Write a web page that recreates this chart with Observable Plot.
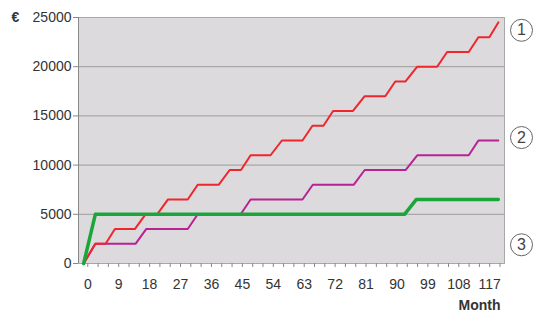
<!DOCTYPE html>
<html>
<head>
<meta charset="utf-8">
<script src="https://cdn.jsdelivr.net/npm/d3@7"></script>
<script src="https://cdn.jsdelivr.net/npm/@observablehq/plot@0.6"></script>
<style>
  html, body { margin: 0; padding: 0; background: #fff; }
</style>
</head>
<body>
<div id="chart"></div>
<script>
// ---- data ----
const redMonths = [-1.2, 2.2, 5.2, 7.9, 13.7, 16.8, 20.2, 23.3, 29.1, 32, 38.1, 41.3, 44.6, 47.4, 53.2, 56.5, 62.5, 65.4, 68.6, 71.4, 77.2, 80.6, 86.6, 89.5, 92.5, 95.9, 101.7, 104.6, 110.9, 113.7, 116.9, 119.5];
const redValues = [0, 2000, 2000, 3500, 3500, 5000, 5000, 6500, 6500, 8000, 8000, 9500, 9500, 11000, 11000, 12500, 12500, 14000, 14000, 15500, 15500, 17000, 17000, 18500, 18500, 20000, 20000, 21500, 21500, 23000, 23000, 24500];

const purpleMonths = [-1.2, 2.2, 13.9, 17.0, 29.1, 32, 44.5, 47.4, 62.5, 65.5, 77.4, 80.6, 92.5, 95.9, 110.9, 113.7, 119.5];
const purpleValues = [0, 2000, 2000, 3500, 3500, 5000, 5000, 6500, 6500, 8000, 8000, 9500, 9500, 11000, 11000, 12500, 12500];

const greenMonths = [-1.2, 2.2, 92.2, 95.6, 119.5];
const greenValues = [0, 5000, 5000, 6500, 6500];

const yTicks = [0, 5000, 10000, 15000, 20000, 25000];
const yGrid = [5000, 10000, 15000, 20000];
const xTickLabels = [0, 9, 18, 27, 36, 45, 54, 63, 72, 81, 90, 99, 108, 117];
const xMinorTicks = [0, 3, 6, 9, 12, 15, 18, 21, 24, 27, 30, 33, 36, 39, 42, 45, 48, 51, 54, 57, 60, 63, 66, 69, 72, 75, 78, 81, 84, 87, 90, 93, 96, 99, 102, 105, 108, 111, 114, 117, 120];

const seriesLabels = ["1", "2", "3"];
const seriesLabelValues = [23700, 12800, 1900];

const seriesNames = ["red", "purple", "green"];
const seriesColors = ["#ef262c", "#b62394", "#1ba63c"];

const toRows = (name, ms, vs) => ms.map((m, i) => ({series: name, month: m, value: vs[i]}));
const red = toRows("red", redMonths, redValues);
const purple = toRows("purple", purpleMonths, purpleValues);
const green = toRows("green", greenMonths, greenValues);
const circles = seriesLabels.map((t, i) => ({t, y: seriesLabelValues[i]}));

const chart = Plot.plot({
  width: 537,
  height: 314,
  marginLeft: 78,
  marginRight: 33,
  marginTop: 17,
  marginBottom: 51,
  style: {fontFamily: "'Liberation Sans', Arial, sans-serif", fontSize: "14px", color: "#333", background: "white", overflow: "visible"},
  x: {domain: [-2.7, 121.3]},
  y: {domain: [0, 25000]},
  marks: [
    Plot.frame({fill: "#dcdadc", stroke: null}),
    Plot.gridY(yGrid, {stroke: "#9c9c9c", strokeOpacity: 1, strokeWidth: 1}),
    Plot.frame({stroke: "#a8a8a8"}),
    Plot.axisY(yTicks, {tickSize: 5, tickPadding: 2, label: null, tickFormat: d => String(d), stroke: "#888", fill: "#333"}),
    Plot.axisX(xMinorTicks, {tickSize: 4, tickFormat: () => "", label: null, stroke: "#888"}),
    Plot.axisX(xTickLabels, {tickSize: 0, tickPadding: 16, label: null, tickFormat: d => String(d), fill: "#333"}),
    Plot.ruleX([-2.7], {stroke: "#888"}),
    Plot.line(purple, {x: "month", y: "value", stroke: seriesColors[1], strokeWidth: 2}),
    Plot.line(red, {x: "month", y: "value", stroke: seriesColors[0], strokeWidth: 2}),
    Plot.line(green, {x: "month", y: "value", stroke: seriesColors[2], strokeWidth: 3.5}),
    Plot.dot(circles, {y: "y", frameAnchor: "right", dx: 17, r: 11, stroke: "#666", fill: "white", strokeWidth: 1}),
    Plot.text(circles, {y: "y", text: "t", frameAnchor: "right", dx: 17, textAnchor: "middle", fontSize: 16, fill: "#444"}),
    Plot.text(["Month"], {frameAnchor: "bottom-right", dx: -4, dy: 42, textAnchor: "end", lineAnchor: "middle", fontWeight: "bold", fontSize: 14, fill: "#333"}),
    Plot.text(["€"], {frameAnchor: "top-left", dx: -63, dy: 0, textAnchor: "middle", lineAnchor: "middle", fontWeight: "bold", fontSize: 14, fill: "#333"})
  ]
});
document.getElementById("chart").appendChild(chart);
</script>
</body>
</html>
